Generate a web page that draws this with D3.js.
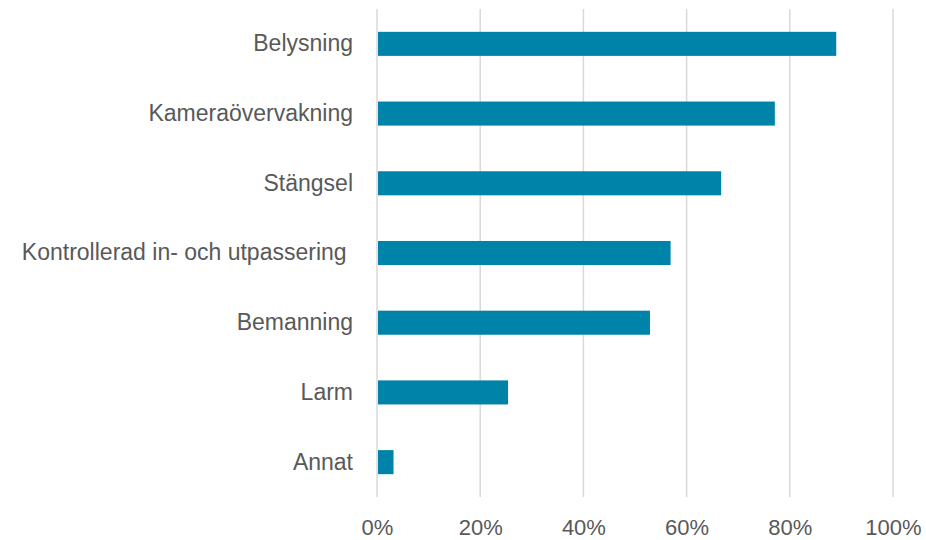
<!DOCTYPE html>
<html>
<head>
<meta charset="utf-8">
<script src="https://cdn.jsdelivr.net/npm/d3@7"></script>
<style>
  html, body { margin: 0; padding: 0; background: #fff; }
  svg { display: block; }
  text { font-family: "Liberation Sans", Arial, sans-serif; fill: #595959; }
</style>
</head>
<body>
<svg id="chart" width="926" height="540"></svg>
<script>
// Andel per skyddsåtgärd
const categories = [
  "Belysning",
  "Kameraövervakning",
  "Stängsel",
  "Kontrollerad in- och utpassering ",
  "Bemanning",
  "Larm",
  "Annat"
];
const values = [0.89, 0.771, 0.667, 0.569, 0.529, 0.254, 0.032];
const tickValues = [0, 0.2, 0.4, 0.6, 0.8, 1.0];

const svg = d3.select("#chart");
const margin = { top: 9, right: 33, bottom: 43, left: 377 };
const width = 926 - margin.left - margin.right;
const height = 540 - margin.top - margin.bottom;

const g = svg.append("g").attr("transform", `translate(${margin.left},${margin.top})`);

const x = d3.scaleLinear().domain([0, 1]).range([0, width]);
const y = d3.scaleBand()
  .domain(categories)
  .range([0, height])
  .paddingInner(0.655)
  .paddingOuter(0.3275);

// Vertical gridlines
g.selectAll("line.grid")
  .data(tickValues)
  .join("line")
  .attr("class", "grid")
  .attr("x1", d => x(d)).attr("x2", d => x(d))
  .attr("y1", 0).attr("y2", height)
  .attr("stroke", "#d9d9d9")
  .attr("stroke-width", 1.5);

// Bars
g.selectAll("rect.bar")
  .data(categories.map((c, i) => ({ c, v: values[i] })))
  .join("rect")
  .attr("class", "bar")
  .attr("x", x(0) + 1)
  .attr("y", d => y(d.c))
  .attr("width", d => x(d.v) - x(0) - 1)
  .attr("height", y.bandwidth())
  .attr("fill", "#0083a9");

// Category labels
const yAxis = d3.axisLeft(y).tickSize(0).tickPadding(24);
const ya = g.append("g").call(yAxis);
ya.select(".domain").remove();
ya.selectAll("text")
  .attr("font-size", 23)
  .style("white-space", "pre")
  .attr("fill", "#595959");

// Percentage tick labels
const xAxis = d3.axisBottom(x)
  .tickValues(tickValues)
  .tickFormat(d3.format(".0%"))
  .tickSize(0)
  .tickPadding(22);
const xa = g.append("g").attr("transform", `translate(0,${height})`).call(xAxis);
xa.select(".domain").remove();
xa.selectAll("text").attr("font-size", 22).attr("fill", "#595959");
</script>
</body>
</html>
